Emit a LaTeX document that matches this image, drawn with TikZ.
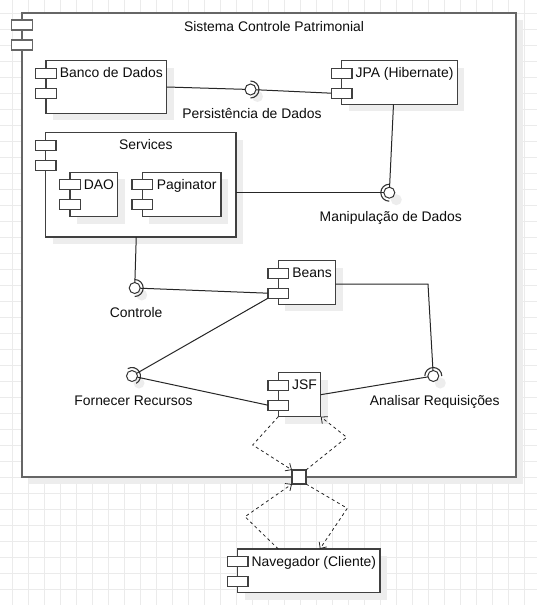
\documentclass[tikz,border=0pt]{standalone}
\usepackage{fontspec}
\setmainfont{Liberation Sans}
\usetikzlibrary{arrows.meta,shadows}

% UML component: box with two module tabs on its left edge and a label
\newcommand{\umlcomp}[6]{%
  \node[compbox, minimum width=#4, minimum height=#5, anchor=north west] (#1) at (#2,#3) {};
  \node[icon] (#1-a) at ([yshift=-12.5pt]#1.north west) {};
  \node[icon] (#1-b) at ([yshift=-32.5pt]#1.north west) {};
  \node[lbl, anchor=base] (#1-t) at ([xshift=5pt,yshift=-17pt]#1.north) {#6};
}
% provided/required interface: ball with a socket arc and a label below
\newcommand{\umliface}[6]{%
  \node[iface] (#1) at (#2,#3) {};
  \draw[socket] ([shift={(#4:8.5)}]#1.center) arc[start angle=#4, end angle=#5, radius=8.5];
  \node[lbl, anchor=base] (#1-t) at ([xshift=1.5pt,yshift=-29pt]#1.center) {#6};
}

\begin{document}
\begin{tikzpicture}[x=1pt, y=-1pt,
  gridline/.style={draw=black!8, line width=0.8pt},
  shade/.style={drop shadow={shadow xshift=7pt, shadow yshift=-7pt, fill=black!7, opacity=1}},
  frame/.style={draw=black!60, line width=1.6pt, fill=white, inner sep=0pt, outer sep=0pt, shade},
  frameicon/.style={draw=black!60, line width=1.4pt, fill=white, minimum width=20.6, minimum height=10, inner sep=0pt, outer sep=0pt},
  compbox/.style={draw=black!75, line width=1.2pt, fill=white, inner sep=0pt, outer sep=0pt, shade},
  icon/.style={draw=black!75, line width=1.2pt, fill=white, minimum width=20.6, minimum height=10, inner sep=0pt, outer sep=0pt},
  lbl/.style={font=\fontsize{13.9}{16}\selectfont, text=black!95, inner sep=0pt},
  iface/.style={circle, draw=black!80, line width=1pt, fill=white, minimum size=11, inner sep=0pt, outer sep=0pt, shade},
  socket/.style={draw=black!80, line width=1.1pt},
  link/.style={draw=black!85, line width=1pt},
  portbox/.style={draw=black!75, line width=1.2pt, fill=white, minimum size=14, inner sep=0pt, outer sep=0pt},
  dep/.style={draw=black!85, line width=0.8pt, dash pattern=on 3pt off 3pt,
              -{Straight Barb[length=5pt,width=9pt]}},
]
\useasboundingbox (0,0) rectangle (537,605);

% background grid
\foreach \i in {0,...,32} \draw[gridline] ({12.7+16*\i},0) -- ({12.7+16*\i},605);
\foreach \j in {0,...,36} \draw[gridline] (0,{13.3+16*\j}) -- (537,{13.3+16*\j});

% system boundary
\node[frame, minimum width=494, minimum height=464, anchor=north west] (sys) at (22,13) {};
\node[frameicon] (sys-a) at ([yshift=-12pt]sys.north west) {};
\node[frameicon] (sys-b) at ([yshift=-32pt]sys.north west) {};
\node[lbl, anchor=base] (sys-t) at ([xshift=5pt,yshift=-18.7pt]sys.north) {Sistema Controle Patrimonial};

% components
\umlcomp{banco}{46}{60.7}{120.7}{52.6}{Banco de Dados}
\umlcomp{jpa}{341.7}{60.7}{115.6}{43.6}{JPA (Hibernate)}
\umlcomp{services}{45.7}{132.7}{190.3}{104.3}{Services}
\umlcomp{dao}{70}{172.3}{47.7}{44.4}{DAO}
\umlcomp{pag}{142.3}{172.3}{78.7}{44.4}{Paginator}
\umlcomp{beans}{278.3}{260.7}{57.4}{43.4}{Beans}
\umlcomp{jsf}{278.3}{372.7}{42.4}{44}{JSF}
\umlcomp{nav}{237.7}{549}{142.3}{43.7}{Navegador (Cliente)}

% interfaces
\umliface{persist}{250.5}{89.5}{-90}{90}{Persistência de Dados}
\umliface{manip}{389.3}{192.7}{90}{270}{Manipulação de Dados}
\umliface{ctrl}{134.7}{288}{-90}{90}{Controle}
\umliface{forn}{132}{376}{-120}{60}{Fornecer Recursos}
\umliface{anal}{433.3}{376}{180}{360}{Analisar Requisições}

% port on the boundary
\node[portbox] (port) at (299,477) {};

% bend points of connectors
\coordinate (bendA) at (428,284);
\coordinate (dl1) at (252.7,445);
\coordinate (dr1) at (346.7,437.3);
\coordinate (dr2) at (347.3,508.3);
\coordinate (dl2) at (245,516.7);

% solid connectors
\draw[link] (banco.east) -- (persist);
\draw[link] (persist) -- (jpa-b.west);
\draw[link] ([xshift=-6pt]jpa.south) -- (manip);
\draw[link] (services.east |- manip) -- (manip);
\draw[link] ([xshift=-4.6pt]services.south) -- (ctrl);
\draw[link] (ctrl) -- (beans-b.west);
\draw[link] (beans.east |- bendA) -- (bendA) -- (anal);
\draw[link] (beans-b.south west) -- (forn);
\draw[link] (forn) -- (jsf-b.west);
\draw[link] (jsf.east) -- (anal);

% dependencies through the port
\draw[dep] (jsf.south west) -- (dl1) -- (port.north west);
\draw[dep] (port.north east) -- (dr1) -- (jsf.south east);
\draw[dep] (port.south east) -- (dr2) -- ([xshift=11pt]nav.north);
\draw[dep] ([xshift=-30.6pt]nav.north) -- (dl2) -- (port.south west);
\end{tikzpicture}
\end{document}
